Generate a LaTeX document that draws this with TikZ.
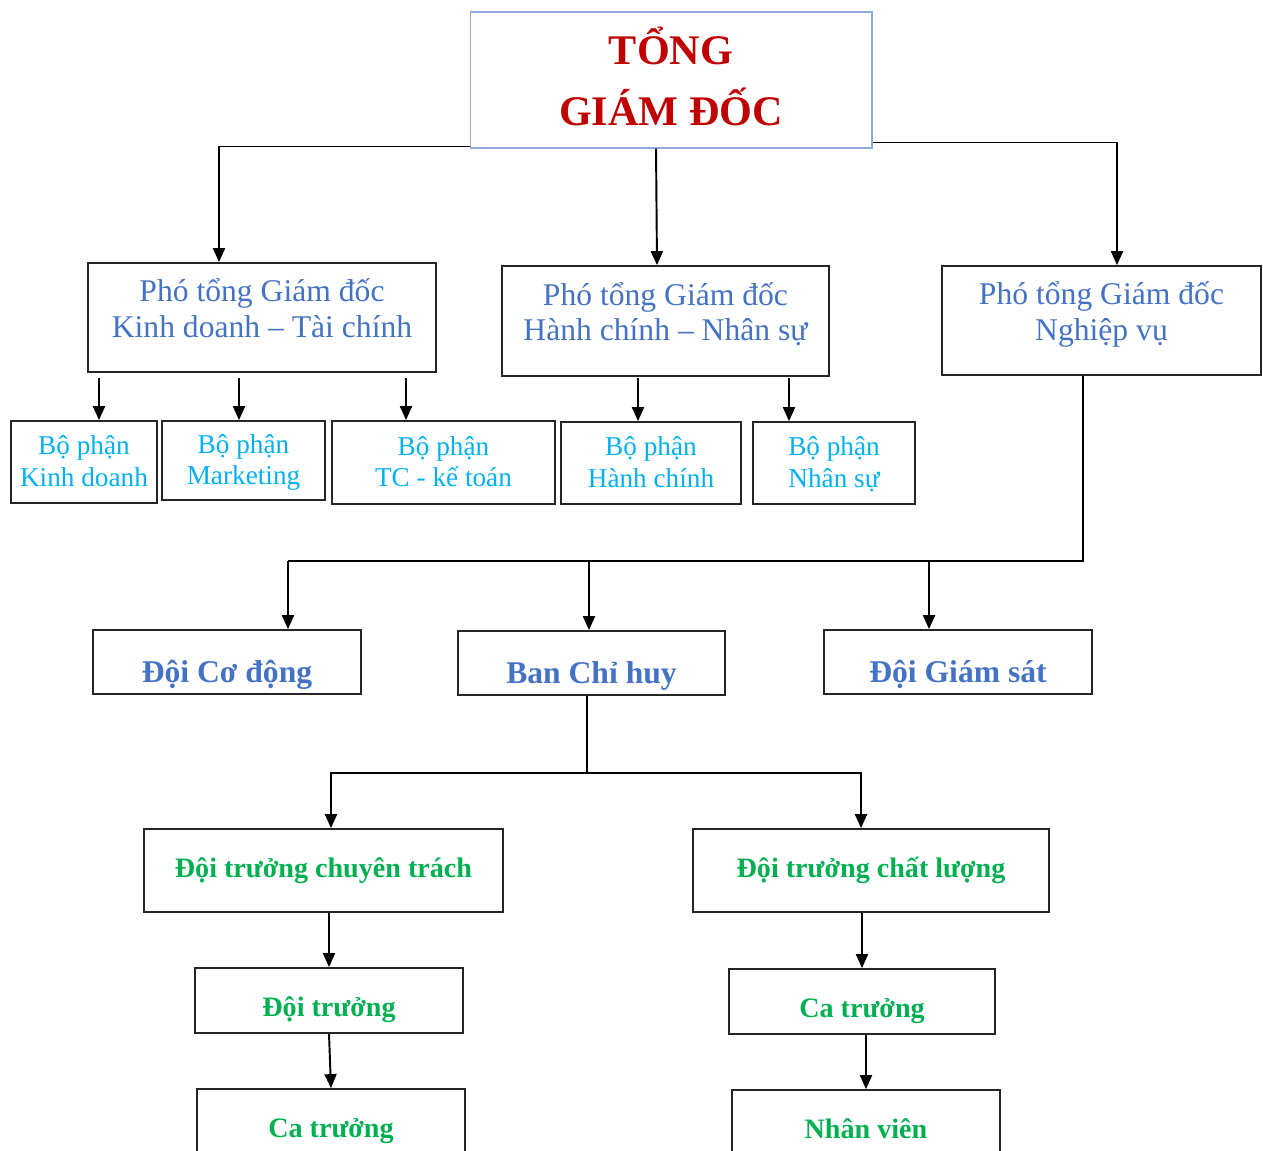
\documentclass[tikz,border=0pt]{standalone}
\usepackage{fontspec}
\setmainfont{Liberation Serif}
\usetikzlibrary{arrows.meta,calc}
\definecolor{tgdred}{HTML}{C00000}
\definecolor{tgdline}{HTML}{8FAADC}
\definecolor{pgdblue}{HTML}{4472C4}
\definecolor{bpcyan}{HTML}{00B0F0}
\definecolor{grgreen}{HTML}{00B050}
\newcommand{\pgdtxt}[2]{\rule{0pt}{0.6cm}#1\\#2\rule[-0.52cm]{0pt}{0.52cm}}
\newcommand{\bptxt}[2]{\rule{0pt}{0.5cm}#1\\#2\rule[-0.16cm]{0pt}{0.16cm}}

\begin{document}
\begin{tikzpicture}[x=0.02cm,y=-0.02cm,
  box/.style={draw=black!85,line width=1pt,rectangle,inner sep=2pt,align=center},
  tgd/.style={draw=tgdline,line width=0.6pt,rectangle,align=center,text=tgdred,
    font=\bfseries\fontsize{24pt}{35pt}\selectfont},
  pgd/.style={box,text=pgdblue,font=\fontsize{18pt}{20pt}\selectfont},
  bp/.style={box,text=bpcyan,font=\fontsize{15.5pt}{17.8pt}\selectfont},
  doi/.style={box,text=pgdblue,font=\bfseries\fontsize{18pt}{20pt}\selectfont,
    text height=0.88cm,text depth=0.06cm},
  gtop/.style={box,text=grgreen,font=\bfseries\fontsize{16pt}{18pt}\selectfont},
  gsub/.style={gtop,text height=0.68cm,text depth=0.06cm},
  lin/.style={line width=1.1pt},
  arr/.style={lin,->,>={Triangle[length=0.28cm,width=0.24cm]}}]
 \useasboundingbox (0,0) rectangle (1263,1151);

 % Tong giam doc
 \node[tgd,minimum width=8.04cm,minimum height=2.72cm] (TGD) at (671,80)
   {TỔNG\\GIÁM ĐỐC\rule[-0.16cm]{0pt}{0.16cm}};

 % Pho tong giam doc
 \node[pgd,minimum width=6.96cm,minimum height=2.18cm] (P1) at (262,317.5)
   {\pgdtxt{Phó tổng Giám đốc}{Kinh doanh – Tài chính}};
 \node[pgd,minimum width=6.54cm,minimum height=2.2cm] (P2) at (665.5,321)
   {\pgdtxt{Phó tổng Giám đốc}{Hành chính – Nhân sự}};
 \node[pgd,minimum width=6.38cm,minimum height=2.18cm] (P3) at (1101.5,320.5)
   {\pgdtxt{Phó tổng Giám đốc}{Nghiệp vụ}};

 % Bo phan
 \node[bp,minimum width=2.92cm,minimum height=1.64cm] (B1) at (84,462) {\bptxt{Bộ phận}{Kinh doanh}};
 \node[bp,minimum width=3.26cm,minimum height=1.58cm] (B2) at (243.5,460.5) {\bptxt{Bộ phận}{Marketing}};
 \node[bp,minimum width=4.46cm,minimum height=1.66cm] (B3) at (443.5,462.5) {\bptxt{Bộ phận}{TC - kế toán}};
 \node[bp,minimum width=3.6cm,minimum height=1.64cm] (B4) at (651,463) {\bptxt{Bộ phận}{Hành chính}};
 \node[bp,minimum width=3.24cm,minimum height=1.64cm] (B5) at (834,463) {\bptxt{Bộ phận}{Nhân sự}};

 % Doi
 \node[doi,minimum width=5.36cm,minimum height=1.28cm] (D1) at (227,662) {Đội Cơ động};
 \node[doi,minimum width=5.34cm,minimum height=1.28cm] (D2) at (591.5,663) {Ban Chỉ huy};
 \node[doi,minimum width=5.36cm,minimum height=1.28cm] (D3) at (958,662) {Đội Giám sát};

 % Doi truong, ca truong
 \node[gtop,minimum width=7.18cm,minimum height=1.66cm] (G1) at (323.5,870.5) {Đội trưởng chuyên trách};
 \node[gtop,minimum width=7.12cm,minimum height=1.66cm] (G2) at (871,870.5) {Đội trưởng chất lượng};
 \node[gsub,minimum width=5.36cm,minimum height=1.3cm] (G3) at (329,1000.5) {Đội trưởng};
 \node[gsub,minimum width=5.32cm,minimum height=1.3cm] (G4) at (862,1001.5) {Ca trưởng};
 \node[gsub,minimum width=5.36cm,minimum height=1.3cm] (G5) at (331,1121.5) {Ca trưởng};
 \node[gsub,minimum width=5.36cm,minimum height=1.3cm] (G6) at (866,1122.5) {Nhân viên};

 \coordinate (busA) at (288,561);
 \coordinate (busB) at (587,773);

 % TGD -> Pho TGD
 \draw[arr] ([yshift=0.04cm]TGD.south west) -| ([xshift=-0.86cm]P1.north);
 \draw[arr] ([xshift=-0.3cm]TGD.south) -- ([xshift=-0.17cm]P2.north);
 \draw[arr] ([yshift=0.12cm]TGD.south east) -| ([xshift=0.31cm]P3.north);

 % Pho TGD -> bo phan
 \draw[arr] ($(P1.south -| B1.north)+(0.3cm,-0.1cm)$) -- ([xshift=0.3cm]B1.north);
 \draw[arr] ($(P1.south -| B2.north)+(-0.09cm,-0.1cm)$) -- ([xshift=-0.09cm]B2.north);
 \draw[arr] ($(P1.south -| B3.north)+(-0.75cm,-0.1cm)$) -- ([xshift=-0.75cm]B3.north);
 \draw[arr] ($(P2.south -| B4.north)+(-0.26cm,-0.02cm)$) -- ([xshift=-0.26cm]B4.north);
 \draw[arr] ($(P2.south -| B5.north)+(-0.9cm,-0.02cm)$) -- ([xshift=-0.9cm]B5.north);

 % Nghiep vu -> doi
 \draw[lin] ([xshift=-0.37cm]P3.south) |- (busA);
 \draw[arr] (busA) -- ([xshift=1.22cm]D1.north);
 \draw[arr] ([xshift=-0.05cm]busA -| D2.north) -- ([xshift=-0.05cm]D2.north);
 \draw[arr] ([xshift=-0.58cm]D3.north |- busA) -- ([xshift=-0.58cm]D3.north);

 % Ban chi huy -> doi truong
 \draw[lin] ([xshift=-0.09cm]D2.south) -- (busB);
 \draw[arr] (busB) -| ([xshift=0.15cm]G1.north);
 \draw[arr] (busB) -| ([xshift=-0.2cm]G2.north);

 \draw[arr] (G1.south -| G3.north) -- (G3.north);
 \draw[arr] (G2.south -| G4.north) -- (G4.north);
 \draw[arr] (G3.south) -- (G5.north);
 \draw[arr] (G4.south -| G6.north) -- (G6.north);
\end{tikzpicture}
\end{document}
